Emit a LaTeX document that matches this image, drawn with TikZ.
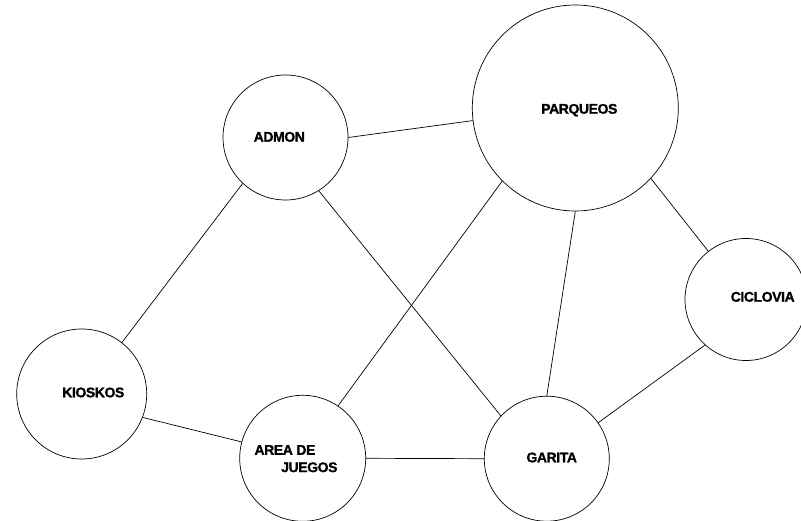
\documentclass[tikz,border=0pt]{standalone}
\usepackage{fontspec}
\newfontfamily\lblfont{Liberation Sans Bold}[LetterSpace=-3.0,FakeBold=1.2]
\begin{document}
\begin{tikzpicture}[x=1pt,y=-1pt,
  place/.style={circle,draw,line width=0.7pt,inner sep=0pt,minimum size=#1},
  lbl/.style={inner sep=0pt,text height=10pt,text depth=0pt,font=\lblfont\fontsize{14}{17.3}\selectfont},
  link/.style={line width=0.7pt}]
\useasboundingbox (0,0) rectangle (801,521);
\clip (0,0) rectangle (801,521);
% circles
\node[place=125pt] (admon) at (285.5,137.5) {};
\node[place=206pt] (parq) at (575.3,108) {};
\node[place=122pt] (cicl) at (746,299.5) {};
\node[place=130pt] (kios) at (81.7,394) {};
\node[place=126pt] (area) at (302.7,458.3) {};
\node[place=125pt] (gari) at (546.8,458.7) {};
% labels
\node[lbl] (tadmon) at (279.3,136.7) {ADMON};
\node[lbl] (tparq) at (579.3,108.7) {PARQUEOS};
\node[lbl] (tcicl) at (762.7,296.7) {CICLOVIA};
\node[lbl] (tkios) at (93.3,392.3) {KIOSKOS};
\node[lbl,align=left,anchor=west,text height=,text depth=] (tarea) at (254.3,458.7) {AREA DE\\\hspace*{26.7pt}JUEGOS};
\node[lbl] (tgari) at (551.7,457.3) {GARITA};
% connectors
\draw[link] (admon.0) -- (parq.187.6);
\draw[link] (admon.227.7) -- (kios.52.5);
\draw[link] (admon.302.8) -- (gari.137.5);
\draw[link] (parq.225.7) -- (area.56.2);
\draw[link] (parq.270) -- (gari.90);
\draw[link] (parq.317.1) -- (cicl.128.4);
\draw[link] (cicl.228.9) -- (gari.35.2);
\draw[link] (kios.339) -- (area.165.8);
\draw[link] (area.0) -- (gari.180);
\end{tikzpicture}
\end{document}
